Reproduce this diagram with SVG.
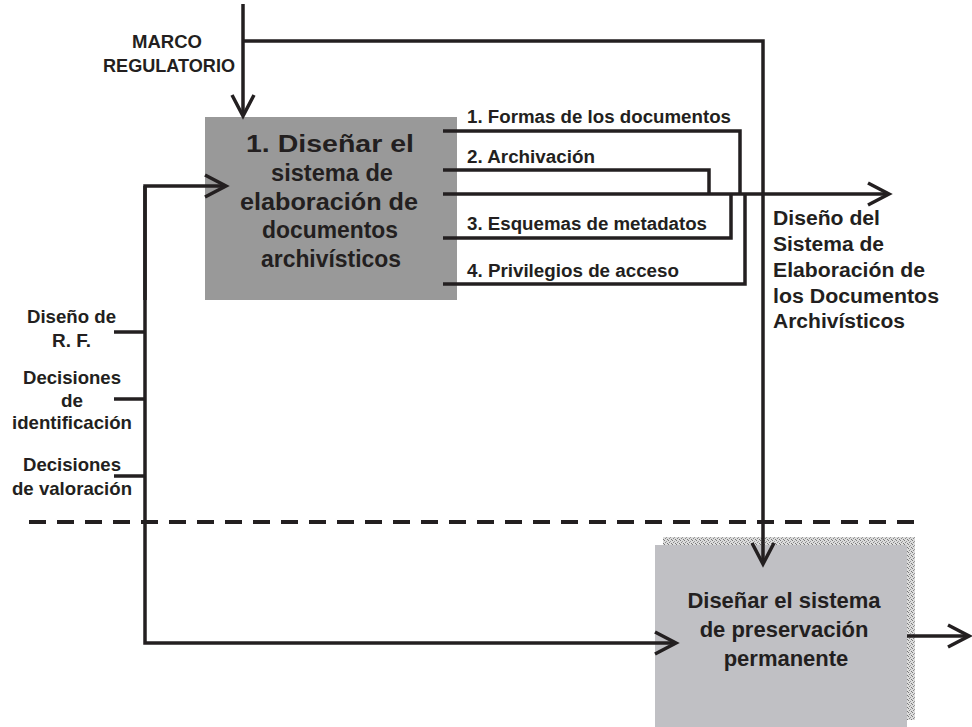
<svg xmlns="http://www.w3.org/2000/svg" width="972" height="727" viewBox="0 0 972 727">
<style>
.t{font-family:"Liberation Sans",Arial,sans-serif;font-weight:bold;fill:#231f20}
.ln{fill:none;stroke:#231f20;stroke-width:3.5}
.m{text-anchor:middle}
</style>
<defs>
<marker id="arr" viewBox="-24 -14 28 28" refX="0" refY="0" markerWidth="28" markerHeight="28" markerUnits="userSpaceOnUse" orient="auto">
<path d="M-21,-11 L0,0 L-21,11" fill="none" stroke="#231f20" stroke-width="3.5"/>
</marker>
<pattern id="stip" width="4" height="4" patternUnits="userSpaceOnUse">
<rect width="4" height="4" fill="#dcdcdc"/>
<rect x="0" y="0" width="1" height="1" fill="#7a7a7a"/>
<rect x="2" y="1" width="1" height="1" fill="#9a9a9a"/>
<rect x="1" y="2" width="1" height="1" fill="#888"/>
<rect x="3" y="3" width="1" height="1" fill="#777"/>
</pattern>
</defs>
<rect width="972" height="727" fill="#fff"/>

<g id="node-disenar-elaboracion">
<rect x="205" y="117" width="252" height="183" fill="#999999"/>
<text class="t m" font-size="23.5" x="330" y="152" textLength="168" lengthAdjust="spacingAndGlyphs">1. Diseñar el</text>
<text class="t m" font-size="23.5" x="332" y="181" textLength="122" lengthAdjust="spacingAndGlyphs">sistema de</text>
<text class="t m" font-size="23.5" x="329" y="210" textLength="178" lengthAdjust="spacingAndGlyphs">elaboración de</text>
<text class="t m" font-size="23.5" x="330" y="238" textLength="136" lengthAdjust="spacingAndGlyphs">documentos</text>
<text class="t m" font-size="23.5" x="331" y="267" textLength="140" lengthAdjust="spacingAndGlyphs">archivísticos</text>
</g>

<g id="node-disenar-preservacion">
<rect x="663" y="537" width="252" height="183" fill="url(#stip)"/>
<rect x="655" y="545" width="252" height="182" fill="#c0c0c4"/>
<text class="t m" font-size="22" x="784" y="608">Diseñar el sistema</text>
<text class="t m" font-size="22" x="784" y="637">de preservación</text>
<text class="t m" font-size="22" x="786" y="666">permanente</text>
</g>

<g id="label-marco">
<text class="t m" font-size="18" x="167" y="48" textLength="70" lengthAdjust="spacingAndGlyphs">MARCO</text>
<text class="t m" font-size="18" x="169" y="72" textLength="132" lengthAdjust="spacingAndGlyphs">REGULATORIO</text>
</g>

<g id="label-outputs">
<text class="t" font-size="17.5" x="467" y="123" textLength="264" lengthAdjust="spacingAndGlyphs">1. Formas de los documentos</text>
<text class="t" font-size="17.5" x="467" y="163" textLength="128" lengthAdjust="spacingAndGlyphs">2. Archivación</text>
<text class="t" font-size="17.5" x="467" y="230" textLength="240" lengthAdjust="spacingAndGlyphs">3. Esquemas de metadatos</text>
<text class="t" font-size="17.5" x="467" y="277" textLength="212" lengthAdjust="spacingAndGlyphs">4. Privilegios de acceso</text>
</g>

<g id="label-diseno-sistema">
<text class="t" font-size="19.5" x="773" y="225" textLength="107" lengthAdjust="spacingAndGlyphs">Diseño del</text>
<text class="t" font-size="19.5" x="773" y="251" textLength="111" lengthAdjust="spacingAndGlyphs">Sistema de</text>
<text class="t" font-size="19.5" x="773" y="277" textLength="152" lengthAdjust="spacingAndGlyphs">Elaboración de</text>
<text class="t" font-size="19.5" x="773" y="303" textLength="166" lengthAdjust="spacingAndGlyphs">los Documentos</text>
<text class="t" font-size="19.5" x="773" y="328" textLength="132" lengthAdjust="spacingAndGlyphs">Archivísticos</text>
</g>

<g id="label-inputs">
<text class="t m" font-size="18.5" x="71.5" y="323" textLength="89" lengthAdjust="spacingAndGlyphs">Diseño de</text>
<text class="t m" font-size="18.5" x="71.5" y="347" textLength="39" lengthAdjust="spacingAndGlyphs">R. F.</text>
<text class="t m" font-size="18.5" x="72" y="384" textLength="98" lengthAdjust="spacingAndGlyphs">Decisiones</text>
<text class="t m" font-size="18.5" x="72" y="407" textLength="22" lengthAdjust="spacingAndGlyphs">de</text>
<text class="t m" font-size="18.5" x="72" y="429" textLength="120" lengthAdjust="spacingAndGlyphs">identificación</text>
<text class="t m" font-size="18.5" x="72" y="471" textLength="98" lengthAdjust="spacingAndGlyphs">Decisiones</text>
<text class="t m" font-size="18.5" x="72" y="495" textLength="120" lengthAdjust="spacingAndGlyphs">de valoración</text>
</g>

<g id="connectors">
<path class="ln" d="M243,4 V116" marker-end="url(#arr)"/>
<path class="ln" d="M243,41 H763 V564" marker-end="url(#arr)"/>
<path class="ln" d="M145,300 V186 H226" marker-end="url(#arr)"/>
<path class="ln" d="M145,186 V643 H676" marker-end="url(#arr)"/>
<path class="ln" d="M114,332 H145 M114,399 H145 M114,476 H145"/>
<path class="ln" d="M443,131 H740 V194 M443,170 H709 V194 M443,238 H731 V194 M443,284 H745 V194"/>
<path class="ln" d="M443,194 H889" marker-end="url(#arr)"/>
<path class="ln" d="M907,636 H969" marker-end="url(#arr)"/>
<path fill="none" stroke="#231f20" stroke-width="4" stroke-dasharray="17 11" d="M29,522 H922"/>
</g>
</svg>
